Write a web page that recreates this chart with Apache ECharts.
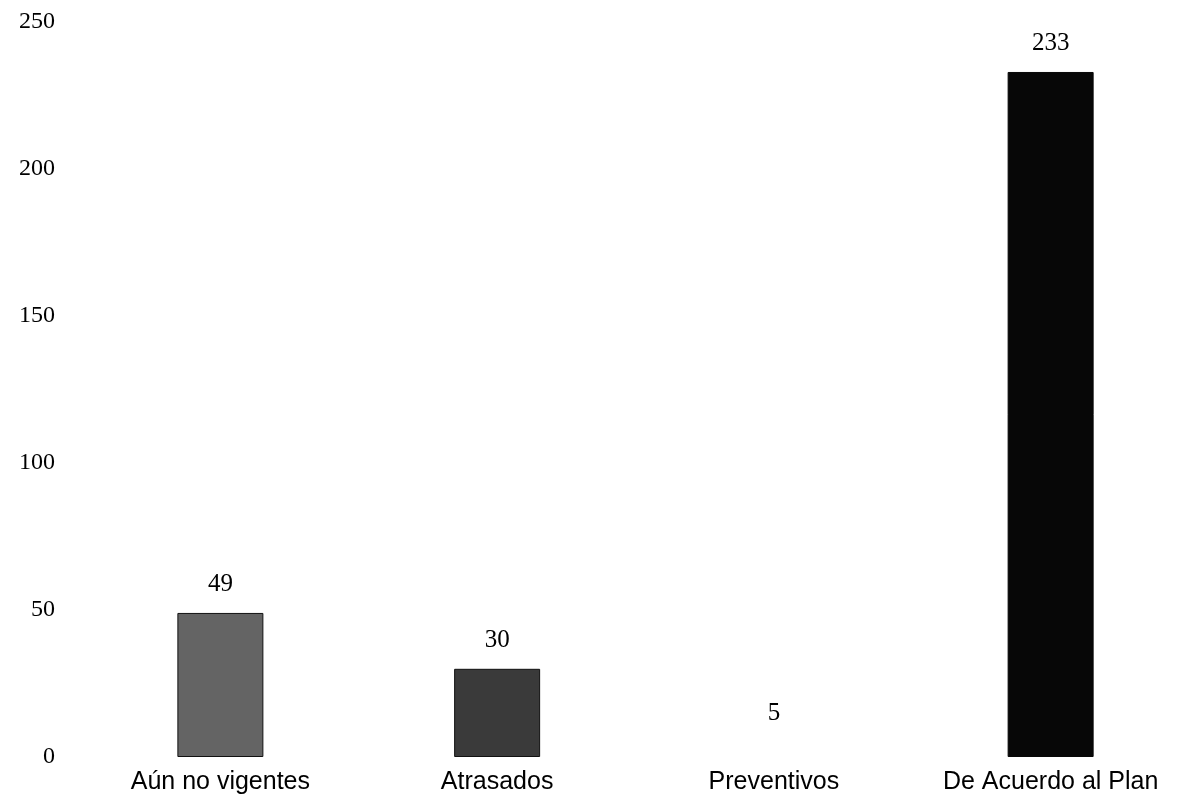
<!DOCTYPE html>
<html>
<head>
<meta charset="utf-8">
<script src="https://cdn.jsdelivr.net/npm/echarts@6/dist/echarts.min.js"></script>
<style>
html,body{margin:0;padding:0;background:#fff;}
#c{width:1180px;height:809px;}
</style>
</head>
<body>
<div id="c"></div>
<script>
const categories = ['Aún no vigentes', 'Atrasados', 'Preventivos', 'De Acuerdo al Plan'];
const values = [49, 30, 5, 233];
const yTicks = [0, 50, 100, 150, 200, 250];

const barColors = ['#646464', '#3a3a3a', '#ffffff', '#070707'];
const barBorders = ['#111', '#111', '#ffffff', '#070707'];

const chart = echarts.init(document.getElementById('c'));
chart.setOption({
  backgroundColor: '#fff',
  animation: false,
  grid: { left: 82, top: 22, bottom: 52, right: -9, outerBoundsMode: 'none', containLabel: false },
  xAxis: {
    type: 'category',
    data: categories,
    axisLine: { show: false },
    axisTick: { show: false },
    axisLabel: { fontFamily: 'Liberation Sans', fontSize: 25, color: '#000', margin: 13, interval: 0 }
  },
  yAxis: {
    type: 'value',
    min: yTicks[0],
    max: yTicks[yTicks.length - 1],
    interval: 50,
    axisLine: { show: false },
    axisTick: { show: false },
    splitLine: { show: false },
    axisLabel: { fontFamily: 'Liberation Serif', fontSize: 24, color: '#000', margin: 27 }
  },
  series: [{
    type: 'bar',
    barWidth: 86,
    data: values.map((v, i) => ({
      value: v,
      itemStyle: { color: barColors[i], borderColor: barBorders[i], borderWidth: 1 }
    })),
    label: {
      show: true,
      position: 'top',
      distance: 16,
      fontFamily: 'Liberation Serif',
      fontSize: 25,
      color: '#000'
    }
  }]
});
</script>
</body>
</html>
